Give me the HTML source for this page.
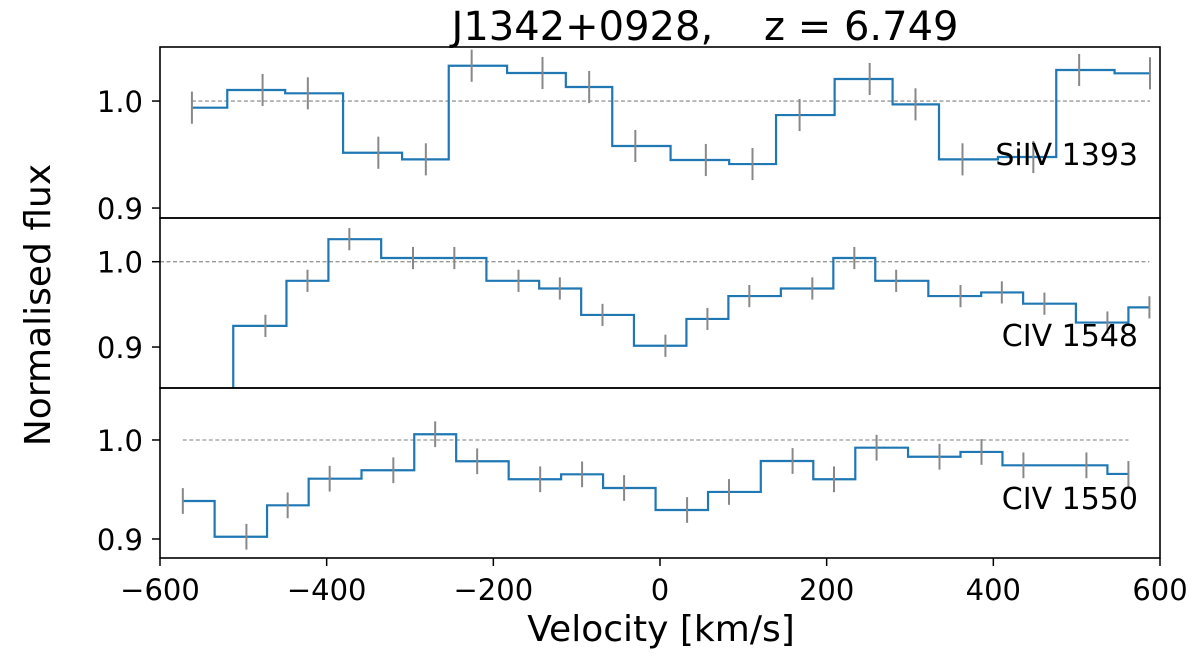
<!DOCTYPE html>
<html><head><meta charset="utf-8"><style>
html,body{margin:0;padding:0;background:#fff;}
svg{display:block;font-family:"DejaVu Sans","Liberation Sans",sans-serif;}
text{white-space:pre;}
</style></head><body>
<svg id="chart" width="1200" height="661" viewBox="0 0 1200 661">
<text x="705" y="40" font-size="40" text-anchor="middle" xml:space="preserve">J1342+0928,    z = 6.749</text>
<text transform="translate(50,305) rotate(-90)" font-size="36" text-anchor="middle">Normalised flux</text>
<text x="661" y="641" font-size="36" text-anchor="middle">Velocity [km/s]</text>
<g id="panels"></g>
</svg>
<script>
const xTicks = [-600,-400,-200,0,200,400,600];
const yTicks = [0.9,1.0];
const siivVel = [-561.7,-476.9,-422.6,-338,-281,-226,-141,-85,-29.6,55,111,167.5,251.6,306.6,363,448,503,588];
const siivFlux = [0.9938,1.0103,1.0072,0.9517,0.9455,1.033,1.0262,1.0131,0.958,0.9449,0.9411,0.9869,1.0206,0.9969,0.9455,0.9477,1.029,1.0259];
const siivErr = 0.015;
const civ1548Vel = [-550.7,-473.5,-423,-372.8,-296.4,-246.8,-169.8,-120.2,-69,6.5,56.9,107.2,182.8,233.2,283.4,360.6,410.2,461.3,536.9,587.3];
const civ1548Flux = [0.82,0.9248,0.9776,1.0264,1.0043,1.0043,0.9776,0.9686,0.9376,0.9015,0.9329,0.9597,0.9686,1.0043,0.9776,0.9597,0.964,0.9508,0.9287,0.9465];
const civ1548Err = 0.013;
const civ1550Vel = [-572.6,-496.3,-446.8,-396.4,-320,-269.8,-219.4,-143.8,-93.5,-43.1,32.5,82.8,159.1,208.8,259.9,335.4,385.8,436.1,511.7,562.1];
const civ1550Flux = [0.9384,0.9023,0.934,0.9609,0.9694,1.0058,0.9785,0.9603,0.9653,0.9515,0.9293,0.9475,0.9788,0.9603,0.9922,0.9831,0.9879,0.9744,0.9744,0.9657];
const civ1550Err = 0.013;

const NS='http://www.w3.org/2000/svg';
const X0=160,X1=1160;
function xs(v){return X0+(v+600)/1200*(X1-X0);}
const g=document.getElementById('panels');
function mk(tag,attrs,parent){const e=document.createElementNS(NS,tag);for(const k in attrs)e.setAttribute(k,attrs[k]);(parent||g).appendChild(e);return e;}

const panels=[
 {name:'siiv-1393',label:'SiIV 1393',top:47,bot:218,ymin:0.8907,ymax:1.0505,vel:siivVel,flux:siivFlux,err:siivErr,dash0:siivVel[0],labelY:165},
 {name:'civ-1548',label:'CIV 1548',top:218,bot:388,ymin:0.852,ymax:1.0512,vel:civ1548Vel,flux:civ1548Flux,err:civ1548Err,dash0:-600,labelY:346},
 {name:'civ-1550',label:'CIV 1550',top:388,bot:558,ymin:0.8808,ymax:1.0525,vel:civ1550Vel,flux:civ1550Flux,err:civ1550Err,dash0:civ1550Vel[0],labelY:509}
];
panels.forEach((p,pi)=>{
 const ys=f=>p.bot-(f-p.ymin)/(p.ymax-p.ymin)*(p.bot-p.top);
 const pg=mk('g',{});
 
 
 const cid='clip'+pi;
 const cp=mk('clipPath',{id:cid},pg);mk('rect',{x:X0,y:p.top,width:X1-X0,height:p.bot-p.top},cp);
 const dl=mk('line',{x1:xs(p.dash0),x2:xs(p.vel[p.vel.length-1]),y1:ys(1),y2:ys(1),stroke:'#999',"stroke-width":1.3,"stroke-dasharray":'4,2.5'},pg);
 
 
 let d='M'+xs(p.vel[0])+','+ys(p.flux[0]);
 for(let i=1;i<p.vel.length;i++){
  const xm=xs((p.vel[i-1]+p.vel[i])/2);
  d+=' H'+xm+' V'+ys(p.flux[i]);
 }
 d+=' H'+xs(p.vel[p.vel.length-1]);
 const sp=mk('path',{d:d,fill:'none',stroke:'#1f77b4',"stroke-width":2.2,"clip-path":'url(#'+cid+')'},pg);
 
 
 p.vel.forEach((v,i)=>{
  const e=mk('line',{x1:xs(v),x2:xs(v),y1:ys(p.flux[i]+p.err),y2:ys(p.flux[i]-p.err),stroke:'#888',"stroke-width":2,"clip-path":'url(#'+cid+')'},pg);
  
  
 });
 const fr=mk('rect',{x:X0,y:p.top,width:X1-X0,height:p.bot-p.top,fill:'none',stroke:'#000',"stroke-width":1.6},pg);
 
 
 yTicks.forEach(t=>{
  const y=ys(t);
  mk('line',{x1:X0-8,x2:X0,y1:y,y2:y,stroke:'#000',"stroke-width":1.5},pg);
  const tl=mk('text',{x:X0-17,y:y+11,"font-size":29,"text-anchor":'end'},pg);
  tl.textContent=t.toFixed(1);
  
  
 });
 const lb=mk('text',{x:1138,y:p.labelY,"font-size":30,"text-anchor":'end'},pg);
 lb.textContent=p.label;
 
 
});
xTicks.forEach(t=>{
 const x=xs(t);
 mk('line',{x1:x,x2:x,y1:558,y2:566,stroke:'#000',"stroke-width":1.5});
 const tl=mk('text',{x:x,y:600,"font-size":29,"text-anchor":'middle'});
 tl.textContent=(t<0?'\u2212'+(-t):String(t));
 
 
});
</script>
</body></html>
